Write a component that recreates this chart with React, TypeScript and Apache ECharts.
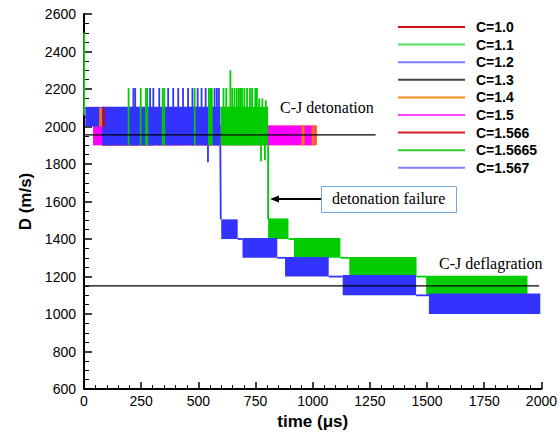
import React, { useEffect, useRef } from 'react';
import * as echarts from 'echarts';

// ---- data (time in µs, D in m/s) ----
const legendNames = ['C=1.0', 'C=1.1', 'C=1.2', 'C=1.3', 'C=1.4', 'C=1.5', 'C=1.566', 'C=1.5665', 'C=1.567'];

// bands: [tStart, tEnd, Dlow, Dhigh] — envelope of the dense oscillation
const bandsC10 = [[80, 120, 1900, 2100]];
const bandsC11 = [[80, 300, 1900, 2100]];
const bandsC12 = [[80, 300, 1900, 2100]];
const bandsC13 = [[80, 200, 1900, 2100]];
const bandsC14 = [[40, 1019, 1900, 2005]];
const bandsC15 = [[40, 1012, 1900, 2005]];
const bandsC1566 = [[80, 590, 1900, 2100]];
const bandsC15665 = [
  [597, 805, 1900, 2105],
  [805, 894, 1400, 1510],
  [918, 1121, 1300, 1405],
  [1160, 1454, 1200, 1305],
  [1496, 1939, 1100, 1205],
];
const bandsC1567 = [
  [6, 80, 2000, 2105],
  [80, 596, 1900, 2105],
  [600, 672, 1400, 1505],
  [693, 845, 1300, 1405],
  [879, 1070, 1200, 1305],
  [1131, 1452, 1100, 1208],
  [1508, 1995, 1000, 1110],
];

// segments: [t0, D0, t1, D1] — spikes, drops and connecting traces
const segsC10 = [[86, 2000, 86, 2105], [89, 1990, 89, 2100]];
const segsC11 = [[1, 2060, 1, 2500]];
const segsC14 = [
  [70, 2000, 70, 2100], [75, 2000, 75, 2100],
  [955, 1900, 955, 2005], [961, 1900, 961, 2005],
  [999, 1900, 999, 2005], [1005, 1900, 1005, 2005],
];
const segsC15665 = [
  [195, 1900, 195, 2205], [248, 1900, 248, 2205], [271, 1900, 271, 2205], [277, 1900, 277, 2205],
  [344, 1900, 344, 2205], [351, 1900, 351, 2205], [484, 1900, 484, 2205], [546, 1900, 546, 2205],
  [552, 1900, 552, 2205], [559, 1900, 559, 2205],
  [610, 1900, 610, 2205], [622, 1900, 622, 2205], [640, 1900, 640, 2300], [648, 1900, 648, 2205],
  [658, 1900, 658, 2205], [668, 1900, 668, 2205], [677, 1900, 677, 2205], [684, 1900, 684, 2205],
  [691, 1900, 691, 2205], [701, 1900, 701, 2205], [713, 1900, 713, 2205], [726, 1900, 726, 2205],
  [735, 1900, 735, 2205], [749, 1900, 749, 2205], [756, 1900, 756, 2205],
  [766, 1900, 766, 2150], [780, 1900, 780, 2150], [795, 1900, 795, 2140],
  [774, 1815, 774, 1900], [791, 1820, 791, 1900],
  [805, 1505, 805, 1900],
  [894, 1400, 918, 1400], [1121, 1300, 1160, 1300], [1454, 1200, 1496, 1200],
];
const segsC1567 = [
  [216, 1900, 216, 2205], [224, 1900, 224, 2205], [289, 1900, 289, 2205], [303, 1900, 303, 2205],
  [329, 1900, 329, 2205], [368, 1900, 368, 2205], [390, 1900, 390, 2205], [412, 1900, 412, 2205],
  [433, 1900, 433, 2205], [455, 1900, 455, 2205], [474, 1900, 474, 2205], [497, 1900, 497, 2205],
  [514, 1900, 514, 2205], [532, 1900, 532, 2205], [571, 1900, 571, 2205], [581, 1900, 581, 2205],
  [590, 1900, 590, 2205],
  [542, 1810, 542, 1900],
  [596, 1900, 598, 1505],
  [672, 1400, 693, 1400], [845, 1300, 879, 1300], [1070, 1200, 1131, 1200], [1452, 1100, 1508, 1100],
];

// Chapman–Jouguet reference levels
const cjDetonation = [[0, 1955], [1275, 1955]];
const cjDeflagration = [[0, 1150], [1990, 1150]];

const xTicks = { min: 0, max: 2000, step: 250 };
const yTicks = { min: 600, max: 2600, step: 200 };

// ---- styles ----
const colors: Record<string, string> = {
  'C=1.0': '#e00000',
  'C=1.1': '#22cc22',
  'C=1.2': '#3333ff',
  'C=1.3': '#333333',
  'C=1.4': '#ff8000',
  'C=1.5': '#ff00ff',
  'C=1.566': '#e00000',
  'C=1.5665': '#00cc00',
  'C=1.567': '#3333ff',
};
const legendColors: Record<string, string> = {
  'C=1.0': '#d01010',
  'C=1.1': '#55dd55',
  'C=1.2': '#7f7fff',
  'C=1.3': '#444444',
  'C=1.4': '#ff8a1a',
  'C=1.5': '#ff44ff',
  'C=1.566': '#d82020',
  'C=1.5665': '#33cc33',
  'C=1.567': '#7f7fff',
};

function bandSeries(name: string, data: number[][]) {
  const color = colors[name];
  return {
    type: 'custom',
    name,
    data,
    encode: { x: [0, 1], y: [2, 3] },
    renderItem: (params: any, api: any) => {
      const p0 = api.coord([api.value(0), api.value(3)]);
      const p1 = api.coord([api.value(1), api.value(2)]);
      return {
        type: 'rect',
        shape: { x: p0[0], y: p0[1], width: p1[0] - p0[0], height: p1[1] - p0[1] },
        style: { fill: color },
      };
    },
  };
}

function segSeries(name: string, data: number[][], width = 1.8) {
  const color = colors[name];
  return {
    type: 'custom',
    name,
    data,
    encode: { x: [0, 2], y: [1, 3] },
    renderItem: (params: any, api: any) => {
      const p0 = api.coord([api.value(0), api.value(1)]);
      const p1 = api.coord([api.value(2), api.value(3)]);
      return {
        type: 'line',
        shape: { x1: p0[0], y1: p0[1], x2: p1[0], y2: p1[1] },
        style: { stroke: color, lineWidth: width },
      };
    },
  };
}

export default function App() {
  const ref = useRef<HTMLDivElement>(null);
  useEffect(() => {
    document.body.style.margin = '0';
    if (!ref.current) return;
    const chart = echarts.init(ref.current, undefined, { renderer: 'svg' });
    const serif = 'Liberation Serif, Times New Roman, serif';
    const sans = 'Liberation Sans, Arial, sans-serif';
    chart.setOption({
      animation: false,
      backgroundColor: '#ffffff',
      grid: { left: 84, right: 15, top: 14, bottom: 41.5 },
      legend: {
        orient: 'vertical',
        left: 398,
        top: 20,
        padding: 0,
        icon: 'rect',
        itemWidth: 67,
        itemHeight: 2,
        itemGap: 3.6,
        selectedMode: false,
        textStyle: { fontFamily: sans, fontWeight: 'bold', fontSize: 14, lineHeight: 14, color: '#000', padding: [0, 0, 0, 6] },
        data: legendNames.map((n) => ({ name: n, itemStyle: { color: legendColors[n] } })),
      },
      xAxis: {
        type: 'value',
        min: xTicks.min,
        max: xTicks.max,
        interval: xTicks.step,
        name: 'time (μs)',
        nameLocation: 'middle',
        nameGap: 17,
        nameTextStyle: { fontFamily: sans, fontWeight: 'bold', fontSize: 17, color: '#000' },
        axisLine: { show: true, onZero: false, lineStyle: { color: '#000', width: 2 } },
        axisTick: { show: true, inside: true, length: 7, lineStyle: { color: '#000', width: 1.5 } },
        minorTick: { show: true, splitNumber: 5, length: 4, lineStyle: { color: '#000', width: 1 } },
        axisLabel: { fontFamily: sans, fontSize: 14, color: '#000', margin: 5, formatter: (v: number) => String(v) },
        splitLine: { show: false },
      },
      yAxis: {
        type: 'value',
        min: yTicks.min,
        max: yTicks.max,
        interval: yTicks.step,
        name: 'D (m/s)',
        nameLocation: 'middle',
        nameGap: 50,
        nameTextStyle: { fontFamily: sans, fontWeight: 'bold', fontSize: 17, color: '#000' },
        axisLine: { show: true, onZero: false, lineStyle: { color: '#000', width: 2 } },
        axisTick: { show: true, inside: true, length: 8, lineStyle: { color: '#000', width: 1.5 } },
        minorTick: { show: true, splitNumber: 4, length: 5, lineStyle: { color: '#000', width: 1 } },
        axisLabel: { fontFamily: sans, fontSize: 14, color: '#000', margin: 8, formatter: (v: number) => String(v) },
        splitLine: { show: false },
      },
      series: [
        bandSeries('C=1.0', bandsC10),
        bandSeries('C=1.1', bandsC11),
        bandSeries('C=1.2', bandsC12),
        bandSeries('C=1.3', bandsC13),
        bandSeries('C=1.566', bandsC1566),
        bandSeries('C=1.4', bandsC14),
        bandSeries('C=1.5', bandsC15),
        bandSeries('C=1.5665', bandsC15665),
        bandSeries('C=1.567', bandsC1567),
        segSeries('C=1.1', segsC11),
        segSeries('C=1.5665', segsC15665),
        segSeries('C=1.567', segsC1567),
        segSeries('C=1.4', segsC14, 1.5),
        segSeries('C=1.0', segsC10, 1.2),
        {
          type: 'line',
          name: 'CJ detonation',
          data: cjDetonation,
          symbol: 'none',
          lineStyle: { color: '#000', width: 1.2 },
        },
        {
          type: 'line',
          name: 'CJ deflagration',
          data: cjDeflagration,
          symbol: 'none',
          lineStyle: { color: '#000', width: 1.2 },
        },
      ],
      graphic: [
        { type: 'text', left: 280, top: 99, style: { text: 'C-J detonation', font: `16px ${serif}`, fill: '#000' } },
        { type: 'text', left: 439, top: 255, style: { text: 'C-J deflagration', font: `16px ${serif}`, fill: '#000' } },
        {
          type: 'rect',
          shape: { x: 321.5, y: 186.5, width: 135, height: 26 },
          style: { fill: '#fff', stroke: '#6fa8dc', lineWidth: 1 },
        },
        { type: 'text', left: 332, top: 190, style: { text: 'detonation failure', font: `16px ${serif}`, fill: '#000' } },
        { type: 'line', shape: { x1: 321, y1: 199, x2: 276, y2: 199 }, style: { stroke: '#000', lineWidth: 2 } },
        { type: 'polygon', shape: { points: [[270, 199], [279, 195.5], [279, 202.5]] }, style: { fill: '#000' } },
      ],
    });
    return () => chart.dispose();
  }, []);
  return <div ref={ref} style={{ width: 560, height: 435 }} />;
}
